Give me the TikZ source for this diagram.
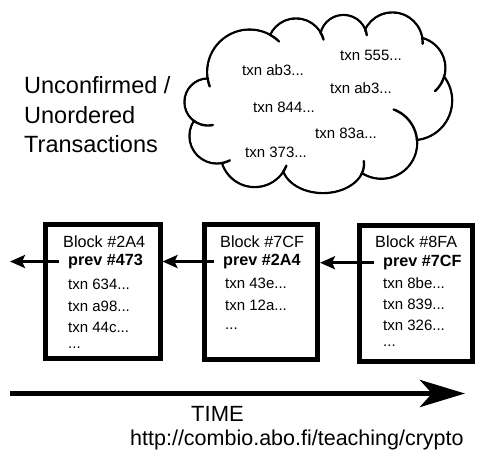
\documentclass[tikz,border=0pt]{standalone}
\usepackage{fontspec}
\setmainfont{Liberation Sans}
\usetikzlibrary{arrows.meta}
\newcommand\cloudhook[5]{\draw[domain=#4:#5,variable=\t,samples=16] plot ({#1+#3*cos(\t)},{#2+#3*sin(\t)});}
\tikzset{
  blockbox/.style={draw, line width=5pt, inner sep=0pt},
  txt/.style={inner sep=0pt, anchor=base west, font=\fontsize{15}{18}\selectfont},
  hdr/.style={inner sep=0pt, anchor=base west, font=\fontsize{16.2}{19}\selectfont},
  prevlbl/.style={inner ysep=0pt, inner xsep=9pt, anchor=base west, font=\fontsize{16.2}{19}\selectfont\bfseries},
  title/.style={inner sep=0pt, anchor=base west, font=\fontsize{23.5}{28}\selectfont},
  link/.style={line width=3pt, -{Stealth[length=15pt,width=13pt,inset=3pt]}},
  timeline/.style={line width=5.5pt, -{Stealth[length=45pt,width=27pt,inset=12pt]}},
  cloudline/.style={line width=2.4pt, line cap=round}
}
\begin{document}
\begin{tikzpicture}[x=1pt,y=-1pt]
\useasboundingbox (0,0) rectangle (485,464);
% ---- cloud ----
\begin{scope}[cloudline]
\foreach \cx/\cy/\r in {249.6/72/42.4, 296/47/28.5, 343.5/38.5/23.5, 392.4/42.7/30.2, 414.3/68/31, 412.6/100.6/39.5, 381.4/143/35.7, 254.7/152.8/34.2, 217/136/27.5, 208/102/23.5}
  \draw (\cx,\cy) circle[radius={\r*1pt}];
\draw (323,164) ellipse[x radius=41pt, y radius=29pt];
\foreach \cx/\cy/\r in {249.6/72/42.4, 296/47/28.5, 343.5/38.5/23.5, 392.4/42.7/30.2, 414.3/68/31, 412.6/100.6/39.5, 381.4/143/35.7, 254.7/152.8/34.2, 217/136/27.5, 208/102/23.5}
  \fill[white] (\cx,\cy) circle[radius={(\r-1.2)*1pt}];
\fill[white] (323,164) ellipse[x radius=39.8pt, y radius=27.8pt];
\fill[white] (320,100) ellipse[x radius=100pt, y radius=60pt];
\cloudhook{249.6}{72}{42.4}{299}{314}
\cloudhook{249.6}{72}{42.4}{160}{171}
\cloudhook{296}{47}{28.5}{329}{345}
\cloudhook{343.5}{38.5}{23.5}{337}{352}
\cloudhook{392.4}{42.7}{30.2}{350}{362}
\cloudhook{414.3}{68}{31}{16}{48}
\cloudhook{381.4}{143}{35.7}{290}{356}
\cloudhook{254.7}{152.8}{34.2}{22}{33}
\cloudhook{217}{136}{27.5}{62}{80}
\cloudhook{208}{102}{23.5}{78}{126}
\draw[domain=-6:21,variable=\t,samples=16] plot ({323+41*cos(\t)},{164+29*sin(\t)});
\end{scope}
% cloud texts
\node[txt] (c1) at (340,60) {txn 555...};
\node[txt] (c2) at (242,75) {txn ab3...};
\node[txt] (c3) at (330,93) {txn ab3...};
\node[txt] (c4) at (253,112) {txn 844...};
\node[txt] (c5) at (315,138) {txn 83a...};
\node[txt] (c6) at (245,157) {txn 373...};
% title
\node[title] (t1) at (24,93) {Unconfirmed /};
\node[title] (t2) at (24,123) {Unordered};
\node[title] (t3) at (24,152) {Transactions};
% ---- blocks ----
\node[blockbox, minimum width=115pt, minimum height=133.5pt] (b1) at (102.5,291.25) {};
\node[blockbox, minimum width=113pt, minimum height=135pt] (b2) at (261,291.5) {};
\node[blockbox, minimum width=113.5pt, minimum height=136pt] (b3) at (415.75,293) {};
% block 1
\node[hdr] (h1) at (63,247) {Block \#2A4};
\node[prevlbl] (p1) at (59,265.5) {prev \#473};
\node[txt] (x11) at (68,289.5) {txn 634...};
\node[txt] (x12) at (68,311) {txn a98...};
\node[txt] (x13) at (68,332.5) {txn 44c...};
\node[txt] (x14) at (68,348.5) {...};
% block 2
\node[hdr] (h2) at (220,247) {Block \#7CF};
\node[prevlbl] (p2) at (214,265.5) {prev \#2A4};
\node[txt] (x21) at (225,288.5) {txn 43e...};
\node[txt] (x22) at (225,310) {txn 12a...};
\node[txt] (x23) at (225,329) {...};
% block 3
\node[hdr] (h3) at (375,247.3) {Block \#8FA};
\node[prevlbl] (p3) at (374,266.7) {prev \#7CF};
\node[txt] (x31) at (383,288) {txn 8be...};
\node[txt] (x32) at (383,309) {txn 839...};
\node[txt] (x33) at (383,330) {txn 326...};
\node[txt] (x34) at (383,346.5) {...};
% links
\coordinate (e0) at (10,261);
\draw[link] (p1.west) -- (p1.west -| e0);
\draw[link] (p2.west) -- (p2.west -| b1.east);
\draw[link] (p3.west) -- (p3.west -| b2.east);
% time
\coordinate (ts) at (10,393.5);
\coordinate (te) at (465,393.5);
\draw[timeline] (ts) -- (te);
\node[inner sep=0pt, anchor=base, font=\fontsize{22}{26}\selectfont] (time) at (217.5,421) {TIME};
\node[inner sep=0pt, anchor=base west, font=\fontsize{21.5}{26}\selectfont] (url) at (130,445) {http://combio.abo.fi/teaching/crypto};
\end{tikzpicture}
\end{document}
